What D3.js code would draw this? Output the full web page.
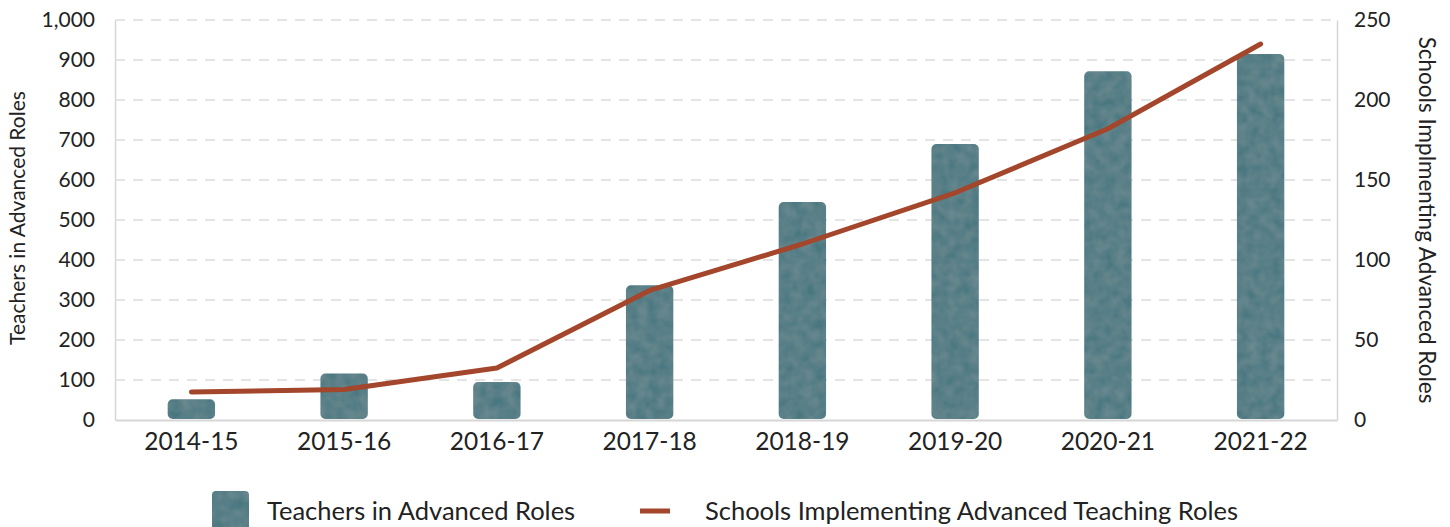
<!DOCTYPE html>
<html>
<head>
<meta charset="utf-8">
<script src="https://cdn.jsdelivr.net/npm/d3@7"></script>
<style>
  body { margin: 0; background: #fff; }
  svg text { font-family: "Lato", "DejaVu Sans", sans-serif; fill: #222; }
</style>
</head>
<body>
<svg id="chart"></svg>
<script>
// data
const years = ["2014-15", "2015-16", "2016-17", "2017-18", "2018-19", "2019-20", "2020-21", "2021-22"];
const teachers = [52, 116, 95, 337, 545, 690, 872, 915];
const schools = [17.5, 19, 32.5, 81, 110, 142, 182, 235];
const leftTicks = [0, 100, 200, 300, 400, 500, 600, 700, 800, 900, 1000];
const rightTicks = [0, 50, 100, 150, 200, 250];

const svgWidth = 1450, svgHeight = 527;
const margin = { top: 20, right: 113, bottom: 107, left: 115 };
const width = svgWidth - margin.left - margin.right;
const height = svgHeight - margin.top - margin.bottom;

const barColor = "#4a7780";
const lineColor = "#a3462b";

const svg = d3.select("#chart")
  .attr("width", svgWidth)
  .attr("height", svgHeight);

// little texture for the bars
const defs = svg.append("defs");
const filt = defs.append("filter").attr("id", "grain")
  .attr("x", 0).attr("y", 0).attr("width", 1).attr("height", 1);
filt.append("feTurbulence").attr("type", "fractalNoise")
  .attr("baseFrequency", 0.09).attr("numOctaves", 2).attr("seed", 4).attr("result", "noise");
filt.append("feColorMatrix").attr("in", "noise").attr("type", "matrix")
  .attr("values", "0 0 0 0 1  0 0 0 0 1  0 0 0 0 1  0 0 0 0.12 -0.02").attr("result", "spots");
filt.append("feComposite").attr("in", "spots").attr("in2", "SourceGraphic").attr("operator", "in").attr("result", "spotsIn");
filt.append("feMerge").selectAll("feMergeNode")
  .data(["SourceGraphic", "spotsIn"]).enter().append("feMergeNode").attr("in", d => d);

const g = svg.append("g")
  .attr("transform", `translate(${margin.left},${margin.top})`);

// scales
const x = d3.scaleBand().domain(years).range([0, width]).paddingInner(0.69).paddingOuter(0.345);
const y = d3.scaleLinear().domain([0, 1000]).range([height, 0]);
const y2 = d3.scaleLinear().domain([0, 250]).range([height, 0]);

// gridlines
g.append("g")
  .selectAll("line")
  .data(leftTicks.filter(d => d > 0))
  .enter().append("line")
  .attr("x1", 0).attr("x2", width)
  .attr("y1", d => y(d)).attr("y2", d => y(d))
  .attr("stroke", "#dcdcdc")
  .attr("stroke-width", 1.5)
  .attr("stroke-dasharray", "10,8");

// left axis
const leftAxis = g.append("g")
  .call(d3.axisLeft(y).tickValues(leftTicks).tickFormat(d3.format(",")).tickSize(0).tickPadding(20));
leftAxis.select(".domain").attr("stroke", "#d6d6d6").attr("stroke-width", 1.5);
leftAxis.selectAll("text").style("font-size", "21px").attr("fill", "#222");

// right axis
const rightAxis = g.append("g")
  .attr("transform", `translate(${width},0)`)
  .call(d3.axisRight(y2).tickValues(rightTicks).tickSize(0).tickPadding(17));
rightAxis.select(".domain").attr("stroke", "#d6d6d6").attr("stroke-width", 1.5);
rightAxis.selectAll("text").style("font-size", "21px").attr("fill", "#222");

// bottom axis
const bottomAxis = g.append("g")
  .attr("transform", `translate(0,${height})`)
  .call(d3.axisBottom(x).tickSize(0).tickPadding(13));
bottomAxis.select(".domain").attr("stroke", "#d6d6d6").attr("stroke-width", 2);
bottomAxis.selectAll("text").style("font-size", "24.5px").attr("fill", "#222");

// bars
g.selectAll(".bar")
  .data(years)
  .enter().append("rect")
  .attr("class", "bar")
  .attr("x", d => x(d))
  .attr("y", (d, i) => y(teachers[i]))
  .attr("width", x.bandwidth())
  .attr("height", (d, i) => height - y(teachers[i]) - 1)
  .attr("rx", 5)
  .attr("fill", barColor)
  .attr("filter", "url(#grain)");

// line
const line = d3.line()
  .x((d, i) => x(years[i]) + x.bandwidth() / 2)
  .y(d => y2(d));

g.append("path")
  .datum(schools)
  .attr("d", line)
  .attr("fill", "none")
  .attr("stroke", lineColor)
  .attr("stroke-width", 5)
  .attr("stroke-linecap", "round")
  .attr("stroke-linejoin", "round");

// axis titles
svg.append("text")
  .attr("transform", `translate(25,${margin.top + height / 2 - 2}) rotate(-90)`)
  .attr("text-anchor", "middle")
  .style("font-size", "21px")
  .text("Teachers in Advanced Roles");

svg.append("text")
  .attr("transform", `translate(1419,${margin.top + height / 2}) rotate(90)`)
  .attr("text-anchor", "middle")
  .style("font-size", "22.5px")
  .text("Schools Implmenting Advanced Roles");

// legend
const legend = svg.append("g").attr("class", "legend");
legend.append("rect")
  .attr("x", 212).attr("y", 491)
  .attr("width", 37).attr("height", 40)
  .attr("rx", 4)
  .attr("fill", barColor)
  .attr("filter", "url(#grain)");
legend.append("text")
  .attr("x", 267).attr("y", 520)
  .style("font-size", "25.5px")
  .text("Teachers in Advanced Roles");

legend.append("line")
  .attr("x1", 640).attr("x2", 670)
  .attr("y1", 511).attr("y2", 511)
  .attr("stroke", lineColor)
  .attr("stroke-width", 5);
legend.append("text")
  .attr("x", 705).attr("y", 520)
  .style("font-size", "25.5px")
  .text("Schools Implementing Advanced Teaching Roles");
</script>
</body>
</html>
